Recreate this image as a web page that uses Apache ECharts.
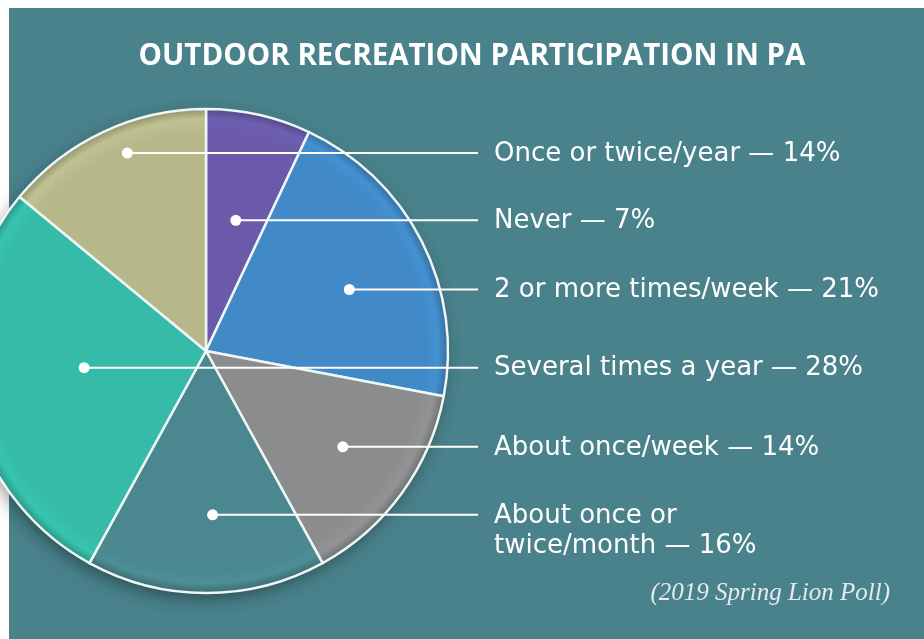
<!DOCTYPE html>
<html>
<head>
<meta charset="utf-8">
<title>Outdoor Recreation Participation in PA</title>
<script src="https://cdn.jsdelivr.net/npm/echarts@6/dist/echarts.min.js"></script>
<style>
  html, body { margin: 0; padding: 0; background: #fff; }
  #chart { width: 924px; height: 639px; }
</style>
</head>
<body>
<div id="chart"></div>
<script>
// data
const titleText = 'OUTDOOR RECREATION PARTICIPATION IN PA'
const sourceText = '(2019 Spring Lion Poll)'
const categories = ['Never', '2 or more times/week', 'About once/week', 'About once or\ntwice/month', 'Several times a year', 'Once or twice/year']
const values = [7, 21, 14, 16, 28, 14]

// styles / layout
const sliceColors = ['#6a5aa9', '#4189c7', '#8b8c8d', '#4a878f', '#35bba8', '#b6b88a']
// callout dot: fraction across the slice's angle, distance from centre (px)
const dotAngleFrac = [0.51, 0.55, 0.48, 0.46, 0.53, 0.57]
const dotDist = [134, 156, 167, 164, 123, 213]
const center = [206, 351]
const radius = 242
const lineEndX = 478
const labelX = 494
const labelLineHeight = 30
const bg = '#49828b'

const chart = echarts.init(document.getElementById('chart'))

// dot positions, angles measured clockwise from 12 o'clock like the pie
const total = values.reduce((a, b) => a + b, 0)
let acc = 0
const dots = values.map((v, i) => {
  const a = (acc + v * dotAngleFrac[i]) / total * Math.PI * 2
  acc += v
  return [center[0] + dotDist[i] * Math.sin(a), center[1] - dotDist[i] * Math.cos(a)]
})

const shade = (hex, k) => {
  const n = parseInt(hex.slice(1), 16)
  const c = [(n >> 16) & 255, (n >> 8) & 255, n & 255].map(x => Math.min(255, Math.round(x * k)))
  return `rgb(${c.join(',')})`
}

const pieData = categories.map((name, i) => ({
  name,
  value: values[i],
  itemStyle: {
    color: new echarts.graphic.RadialGradient(center[0], center[1], radius, [
      { offset: 0, color: sliceColors[i] },
      { offset: 0.9, color: sliceColors[i] },
      { offset: 0.96, color: shade(sliceColors[i], 1.05) },
      { offset: 1, color: shade(sliceColors[i], 0.8) }
    ], true)
  }
}))

const option = {
  backgroundColor: '#fff',
  animation: false,
  title: {
    text: titleText,
    left: 467,
    top: 37,
    textAlign: 'center',
    textStyle: {
      color: '#fff',
      fontSize: 29.5,
      fontWeight: 'bold',
      fontFamily: 'Open Sans'
    }
  },
  graphic: [
    {
      type: 'rect',
      z: -10,
      silent: true,
      shape: { x: 9, y: 8, width: 915, height: 631 },
      style: { fill: bg }
    },
    {
      type: 'circle',
      z: -5,
      silent: true,
      shape: { cx: center[0], cy: center[1], r: radius - 2 },
      style: {
        fill: bg,
        shadowBlur: 18,
        shadowOffsetX: -3,
        shadowOffsetY: 6,
        shadowColor: 'rgba(0,0,0,0.45)'
      }
    },
    // callout lines and dots
    ...dots.map(d => ({
      type: 'line',
      z: 100,
      silent: true,
      shape: { x1: d[0], y1: d[1], x2: lineEndX, y2: d[1] },
      style: { stroke: '#fff', lineWidth: 2 }
    })),
    ...dots.map(d => ({
      type: 'circle',
      z: 101,
      silent: true,
      shape: { cx: d[0], cy: d[1], r: 5.5 },
      style: { fill: '#fff' }
    })),
    {
      type: 'text',
      right: 34,
      top: 581,
      silent: true,
      style: {
        text: sourceText,
        fill: '#e4ebec',
        fontSize: 25,
        fontStyle: 'italic',
        fontFamily: 'Liberation Serif'
      }
    }
  ],
  series: [
    {
      type: 'pie',
      center,
      radius,
      startAngle: 90,
      clockwise: true,
      avoidLabelOverlap: false,
      emphasis: { disabled: true },
      itemStyle: {
        borderColor: '#eef6f6',
        borderWidth: 2.5
      },
      label: {
        show: true,
        position: 'outside',
        color: '#fff',
        fontSize: 26,
        fontFamily: 'DejaVu Sans',
        lineHeight: labelLineHeight,
        formatter: p => `${p.name} — ${p.value}%`
      },
      labelLine: { show: false },
      labelLayout: params => {
        const i = params.dataIndex
        const lines = categories[i].split('\n').length
        return {
          x: labelX,
          y: dots[i][1] + 1 + (lines - 1) * labelLineHeight / 2,
          align: 'left',
          verticalAlign: 'middle'
        }
      },
      data: pieData
    }
  ]
}

chart.setOption(option)
</script>
</body>
</html>
